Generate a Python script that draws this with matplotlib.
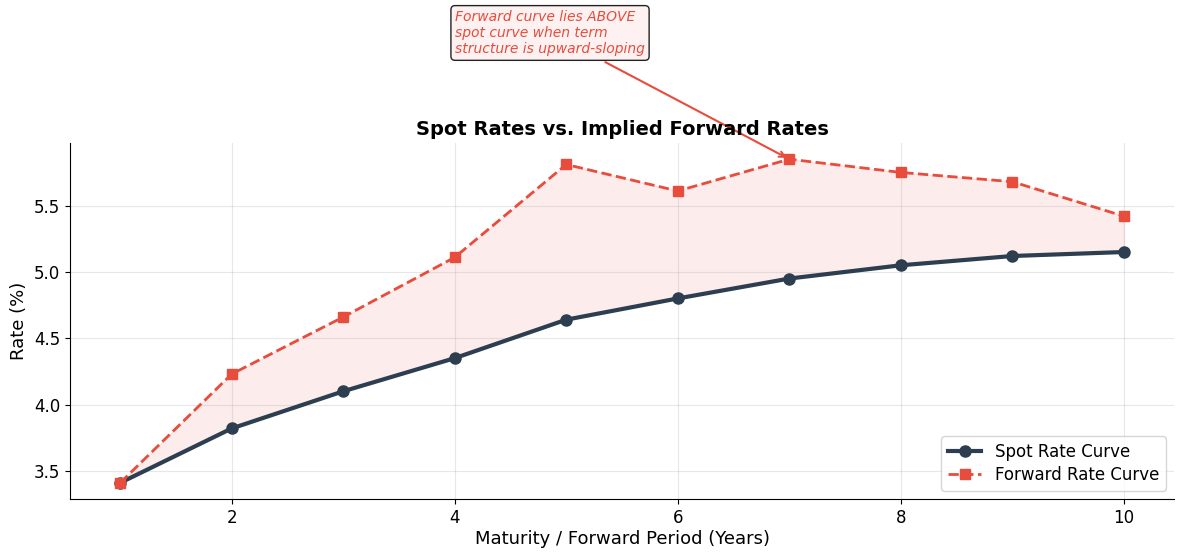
import matplotlib
matplotlib.use("Agg")
import matplotlib.pyplot as plt
import numpy as np

# data
maturity = [1, 2, 3, 4, 5, 6, 7, 8, 9, 10]
spot_rates = [3.41, 3.82, 4.10, 4.35, 4.64, 4.80, 4.95, 5.05, 5.12, 5.15]
forward_rates = [3.41, 4.23, 4.66, 5.11, 5.81, 5.61, 5.85, 5.75, 5.68, 5.42]

SPOT = "#2c3e50"
FWD = "#e74c3c"

fig = plt.figure(figsize=(11.84, 5.57), dpi=100)
ax = fig.add_axes([0.0591, 0.1041, 0.9325, 0.6392])

ax.plot(maturity, spot_rates, color=SPOT, lw=3, marker="o", ms=8,
        label="Spot Rate Curve")
ax.plot(maturity, forward_rates, color=FWD, lw=2, ls="--", marker="s", ms=7,
        label="Forward Rate Curve")
ax.fill_between(maturity, spot_rates, forward_rates, color=FWD, alpha=0.1)

ax.set_title("Spot Rates vs. Implied Forward Rates", fontsize=14, fontweight="bold")
ax.set_xlabel("Maturity / Forward Period (Years)", fontsize=13, labelpad=2)
ax.set_ylabel("Rate (%)", fontsize=13)
ax.tick_params(labelsize=12)
ax.grid(True, alpha=0.3)
ax.spines["top"].set_visible(False)
ax.spines["right"].set_visible(False)
ax.legend(loc="lower right", fontsize=12, labelspacing=0.3)

i = int(np.argmax(forward_rates))
ax.annotate("Forward curve lies ABOVE\nspot curve when term\nstructure is upward-sloping",
            xy=(maturity[i], forward_rates[i]), xycoords="data",
            xytext=(0.4348, 1.309), textcoords="axes fraction",
            ha="center", va="center", multialignment="left",
            fontsize=10, style="italic", color=FWD,
            bbox=dict(boxstyle="round,pad=0.3", fc="#fdf2f1", ec="#222222"),
            arrowprops=dict(arrowstyle="->", color=FWD, lw=1.5),
            annotation_clip=False)

fig.savefig("out.png", dpi=100)
